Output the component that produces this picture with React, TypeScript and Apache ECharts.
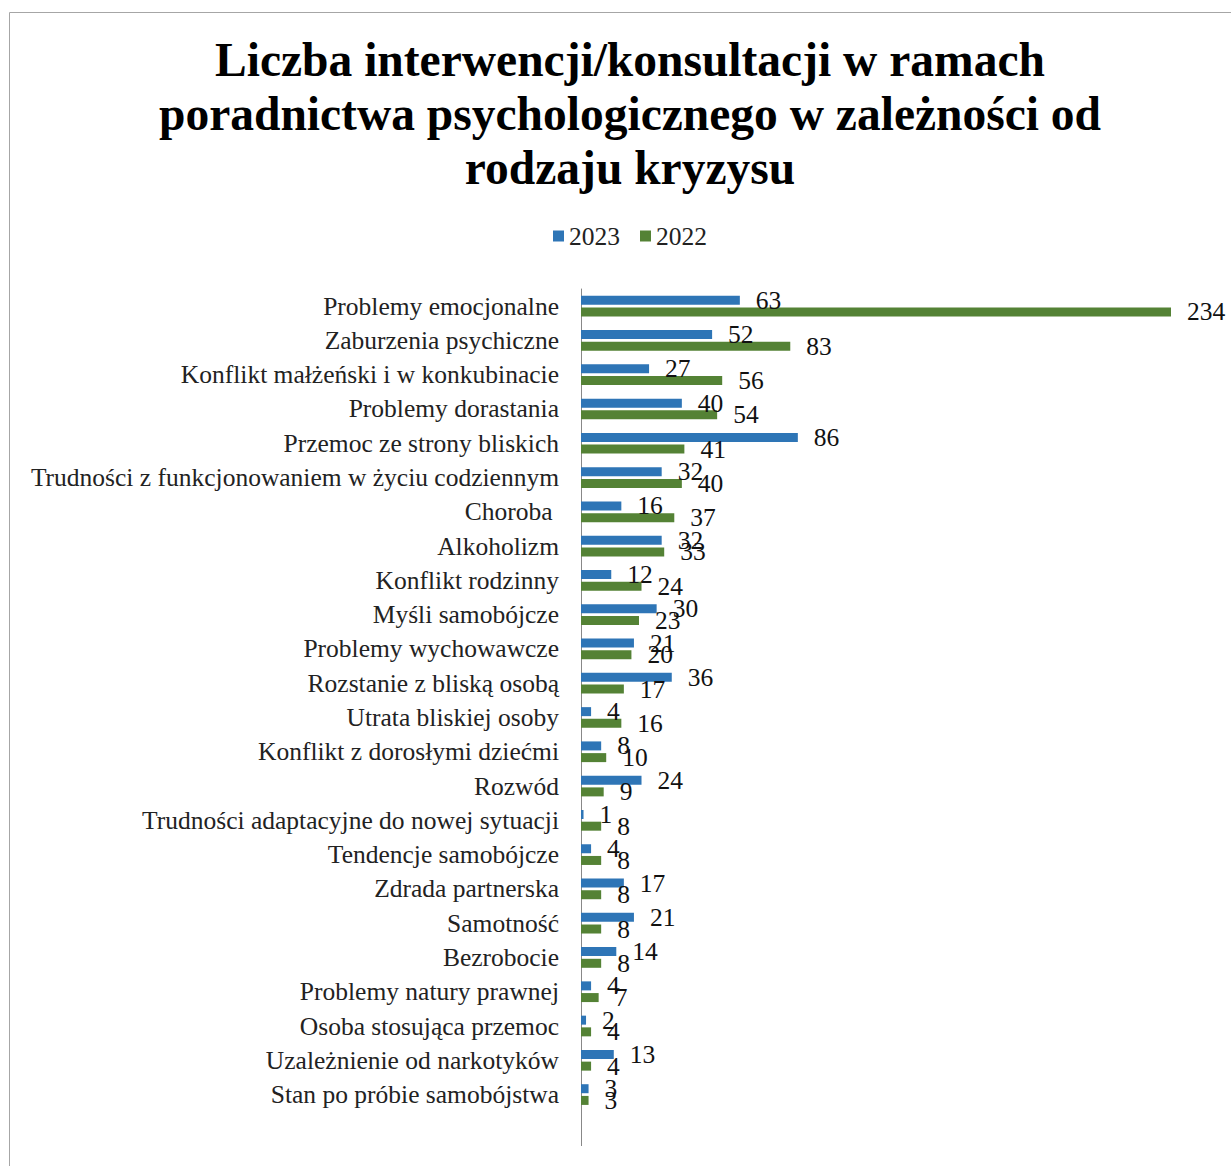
import React, { useEffect, useRef } from "react";
import * as echarts from "echarts";

const categories = [
  "Problemy emocjonalne",
  "Zaburzenia psychiczne",
  "Konflikt małżeński i w konkubinacie",
  "Problemy dorastania",
  "Przemoc ze strony bliskich",
  "Trudności z funkcjonowaniem w życiu codziennym",
  "Choroba ",
  "Alkoholizm",
  "Konflikt rodzinny",
  "Myśli samobójcze",
  "Problemy wychowawcze",
  "Rozstanie z bliską osobą",
  "Utrata bliskiej osoby",
  "Konflikt z dorosłymi dziećmi",
  "Rozwód",
  "Trudności adaptacyjne do nowej sytuacji",
  "Tendencje samobójcze",
  "Zdrada partnerska",
  "Samotność",
  "Bezrobocie",
  "Problemy natury prawnej",
  "Osoba stosująca przemoc",
  "Uzależnienie od narkotyków",
  "Stan po próbie samobójstwa",
];

const values2023 = [63, 52, 27, 40, 86, 32, 16, 32, 12, 30, 21, 36, 4, 8, 24, 1, 4, 17, 21, 14, 4, 2, 13, 3];
const values2022 = [234, 83, 56, 54, 41, 40, 37, 33, 24, 23, 20, 17, 16, 10, 9, 8, 8, 8, 8, 8, 7, 4, 4, 3];

const seriesNames = ["2023", "2022"];
const titleText = "Liczba interwencji/konsultacji w ramach\nporadnictwa psychologicznego w zależności od\nrodzaju kryzysu";

const FONT = "'Liberation Serif', 'DejaVu Serif', serif";
const SMALL = 25.5;

export default function App() {
  const ref = useRef<HTMLDivElement>(null);
  useEffect(() => {
    if (!ref.current) return;
    const chart = echarts.init(ref.current, null, { renderer: "svg" });
    const labelStyle = {
      show: true,
      position: "right" as const,
      distance: 16,
      fontFamily: FONT,
      fontSize: SMALL,
      color: "#111",
    };
    chart.setOption({
      animation: false,
      backgroundColor: "#fff",
      title: {
        text: titleText,
        left: 625,
        textAlign: "center",
        top: 28,
        textStyle: {
          fontFamily: FONT,
          fontSize: 47.5,
          fontWeight: "bold",
          color: "#000",
          lineHeight: 54,
        },
      },
      legend: {
        top: 218,
        left: 548,
        itemWidth: 11,
        itemHeight: 11,
        itemGap: 20,
        icon: "rect",
        textStyle: { fontFamily: FONT, fontSize: SMALL, color: "#222" },
        data: seriesNames,
      },
      grid: {
        left: 581,
        right: 60,
        top: 289,
        height: 822.7,
        containLabel: false,
      },
      xAxis: {
        type: "value",
        min: 0,
        max: 234,
        show: false,
      },
      yAxis: {
        type: "category",
        inverse: true,
        data: categories,
        axisLine: { show: true, lineStyle: { color: "#888", width: 1 } },
        axisTick: { show: false },
        axisLabel: {
          fontFamily: FONT,
          fontSize: SMALL,
          color: "#222",
          margin: 22,
        },
        splitLine: { show: false },
      },
      graphic: [
        {
          type: "rect",
          shape: { x: 9.5, y: 12.5, width: 1400, height: 1400 },
          style: { fill: "none", stroke: "#a6a6a6", lineWidth: 1 },
          silent: true,
        },
        {
          type: "line",
          shape: { x1: 581.5, y1: 1111, x2: 581.5, y2: 1146 },
          style: { stroke: "#888", lineWidth: 1 },
          silent: true,
        },
      ],
      series: [
        {
          name: seriesNames[0],
          type: "bar",
          data: values2023,
          barWidth: 9,
          barGap: "30%",
          itemStyle: { color: "#2E75B6" },
          label: labelStyle,
        },
        {
          name: seriesNames[1],
          type: "bar",
          data: values2022,
          barWidth: 9,
          barGap: "30%",
          itemStyle: { color: "#548235" },
          label: labelStyle,
        },
      ],
    });
    return () => chart.dispose();
  }, []);
  return (
    <div
      ref={ref}
      style={{ position: "absolute", left: 0, top: 0, width: 1231, height: 1166 }}
    />
  );
}
